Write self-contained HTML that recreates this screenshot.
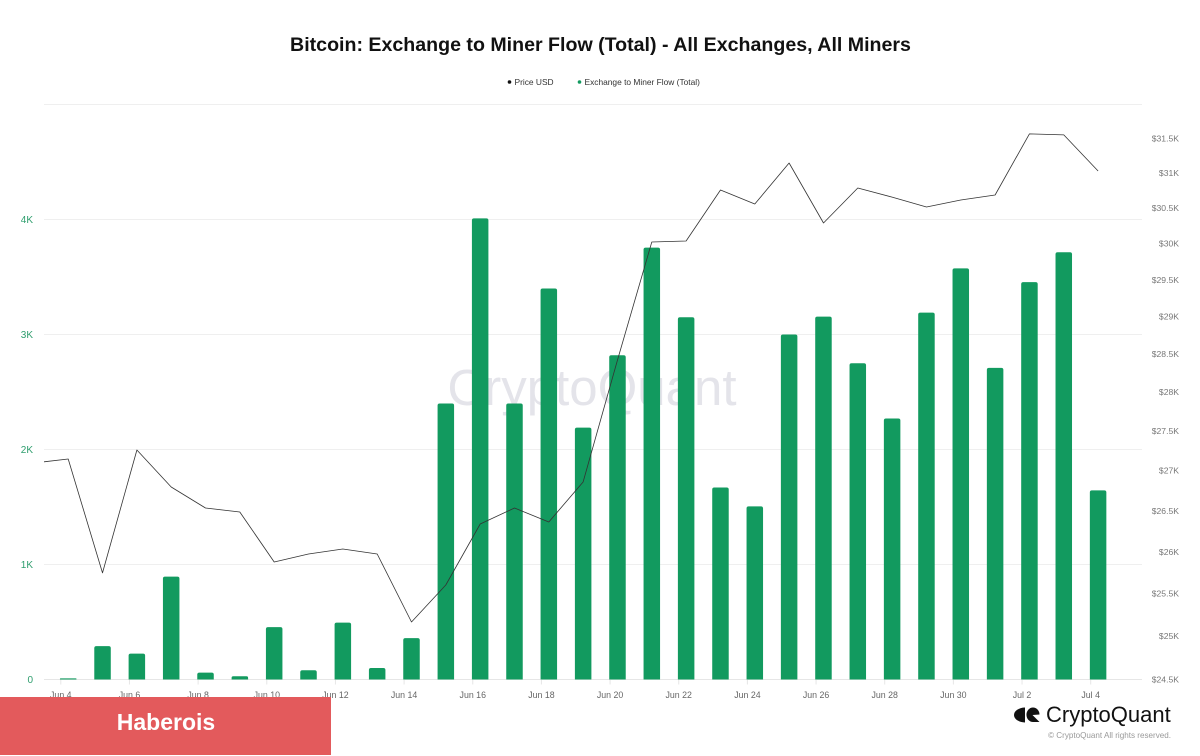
<!DOCTYPE html>
<html lang="en">
<head>
<meta charset="utf-8">
<title>Bitcoin: Exchange to Miner Flow (Total)</title>
<style>
html,body{margin:0;padding:0;background:#fff;}
#chart-root{position:relative;width:1200px;height:756px;overflow:hidden;background:#fff;font-family:"Liberation Sans",sans-serif;}
svg{position:absolute;left:0;top:0;display:block;}
text{font-family:"Liberation Sans",sans-serif;}
</style>
</head>
<body>
<div id="chart-root">
<svg id="chart" width="1200" height="756" viewBox="0 0 1200 756">
  <defs>
    <clipPath id="plot-clip"><rect x="44" y="104" width="1098" height="576"></rect></clipPath>
  </defs>
  <text x="600.5" y="51" text-anchor="middle" font-size="19.6" font-weight="700" fill="#111">Bitcoin: Exchange to Miner Flow (Total) - All Exchanges, All Miners</text>
  <g>
    <g>
      <circle cx="509.5" cy="82" r="1.8" fill="#111"></circle>
      <text x="514.5" y="85" font-size="8.4" fill="#333">Price USD</text>
    </g>
    <g>
      <circle cx="579.5" cy="82" r="1.8" fill="#129a5f"></circle>
      <text x="584.5" y="85" font-size="8.4" fill="#333">Exchange to Miner Flow (Total)</text>
    </g>
  </g>
  <g id="grid"></g>
  <text x="592" y="405" text-anchor="middle" font-size="51" fill="#e4e4ea">CryptoQuant</text>
  <g id="bars"></g>
  <g id="line-layer" clip-path="url(#plot-clip)"></g>
  <g id="x-axis"></g>
  <g id="y-left"></g>
  <g id="y-right"></g>
  <rect x="0" y="697" width="331" height="58" fill="#e35a5c"></rect>
  <text x="166" y="730" text-anchor="middle" font-size="23" font-weight="700" fill="#fff">Haberois</text>
  <g>
    <path d="M1025 707.5 A11 7.5 0 0 0 1025 722.5 Z" fill="#111"></path>
    <path d="M1033 707.5 A6.5 7.2 0 0 0 1033 722 L1039.5 722 L1035 717.5 L1032.5 715 L1039.5 714.5 A6.5 7.2 0 0 0 1033 707.5 Z" fill="#111"></path>
    <text x="1046" y="722" font-size="22" fill="#111">CryptoQuant</text>
  </g>
  <text x="1171" y="738" text-anchor="end" font-size="8.1" fill="#999">© CryptoQuant All rights reserved.</text>
</svg>
</div>
<script>
const dates = ["Jun 4","Jun 5","Jun 6","Jun 7","Jun 8","Jun 9","Jun 10","Jun 11","Jun 12","Jun 13","Jun 14","Jun 15","Jun 16","Jun 17","Jun 18","Jun 19","Jun 20","Jun 21","Jun 22","Jun 23","Jun 24","Jun 25","Jun 26","Jun 27","Jun 28","Jun 29","Jun 30","Jul 1","Jul 2","Jul 3","Jul 4"];
const flowValues = [10,290,225,895,60,28,455,80,495,100,360,2400,4010,2400,3400,2190,2820,3755,3150,1670,1505,3000,3155,2750,2270,3190,3575,2710,3455,3715,1645];
const priceValues = [27142,25743,27256,26791,26531,26482,25874,25971,26031,25971,25163,25599,26335,26531,26359,26854,28419,30020,30034,30755,30555,31142,30287,30783,30653,30512,30612,30683,31566,31552,31027];
const priceBeforeStart = [27092];
const leftTicks = [0,1000,2000,3000,4000,5000];
const leftTickLabels = ["0","1K","2K","3K","4K",""];
const rightTicks = [24500,25000,25500,26000,26500,27000,27500,28000,28500,29000,29500,30000,30500,31000,31500];
const rightTickLabels = ["$24.5K","$25K","$25.5K","$26K","$26.5K","$27K","$27.5K","$28K","$28.5K","$29K","$29.5K","$30K","$30.5K","$31K","$31.5K"];
const xTickDates = ["Jun 4","Jun 6","Jun 8","Jun 10","Jun 12","Jun 14","Jun 16","Jun 18","Jun 20","Jun 22","Jun 24","Jun 26","Jun 28","Jun 30","Jul 2","Jul 4"];

const NS = "http://www.w3.org/2000/svg";
const plotLeft = 44, plotRight = 1142, baseY = 679.5;
const firstX = 68.2, stepX = 34.33, barW = 16.5, tickShift = -7.4;
const pxPerFlow = 0.115, pxPerLogPrice = 2153, priceBase = 24500;

function xAt(i) { return firstX + stepX * i; }
function yFlow(v) { return baseY - v * pxPerFlow; }
function yPrice(v) { return baseY - Math.log(v / priceBase) * pxPerLogPrice; }
function make(tag, attrs, parent) {
  const el = document.createElementNS(NS, tag);
  for (const k in attrs) el.setAttribute(k, attrs[k]);
  parent.appendChild(el);
  return el;
}

const grid = document.getElementById("grid");
const yLeft = document.getElementById("y-left");
leftTicks.forEach(function (v, i) {
  const y = yFlow(v);
  const line = make("line", {x1: plotLeft, x2: plotRight, y1: y, y2: y, stroke: i === 0 ? "#e6e6e6" : "#efefef", "stroke-width": 1}, grid);
  
  
  if (leftTickLabels[i]) {
    const t = make("text", {x: 33, y: y + 3.6, "text-anchor": "end", "font-size": 10, fill: "#2f9e6e"}, yLeft);
    t.textContent = leftTickLabels[i];
    
    
  }
});

const yRight = document.getElementById("y-right");
rightTicks.forEach(function (v, i) {
  const t = make("text", {x: 1179, y: yPrice(v) + 3.2, "text-anchor": "end", "font-size": 8.6, fill: "#777"}, yRight);
  t.textContent = rightTickLabels[i];
  
  
});

const barsLayer = document.getElementById("bars");
flowValues.forEach(function (v, i) {
  const x = xAt(i) - barW / 2, top = yFlow(v), h = baseY - top, r = Math.min(2, h / 2);
  const bar = make("path", {
    d: "M" + x + " " + baseY + "V" + (top + r) + "Q" + x + " " + top + " " + (x + r) + " " + top +
       "H" + (x + barW - r) + "Q" + (x + barW) + " " + top + " " + (x + barW) + " " + (top + r) + "V" + baseY + "Z",
    fill: "#129a5f"
  }, barsLayer);
  
  
});

const linePoints = [[xAt(-1), yPrice(priceBeforeStart[0])]].concat(priceValues.map(function (v, i) { return [xAt(i), yPrice(v)]; }));
const priceLine = make("polyline", {
  points: linePoints.map(function (p) { return p[0].toFixed(1) + "," + p[1].toFixed(1); }).join(" "),
  fill: "none", stroke: "#333", "stroke-width": 0.8, "stroke-linejoin": "round"
}, document.getElementById("line-layer"));



const xAxis = document.getElementById("x-axis");
xTickDates.forEach(function (d) {
  const x = xAt(dates.indexOf(d)) + tickShift;
  const tick = make("line", {x1: x, x2: x, y1: baseY, y2: baseY + 5, stroke: "#e6e6e6", "stroke-width": 1}, xAxis);
  
  
  const t = make("text", {x: x, y: 698, "text-anchor": "middle", "font-size": 8.8, fill: "#666"}, xAxis);
  t.textContent = d;
  
  
});
</script>
</body>
</html>
